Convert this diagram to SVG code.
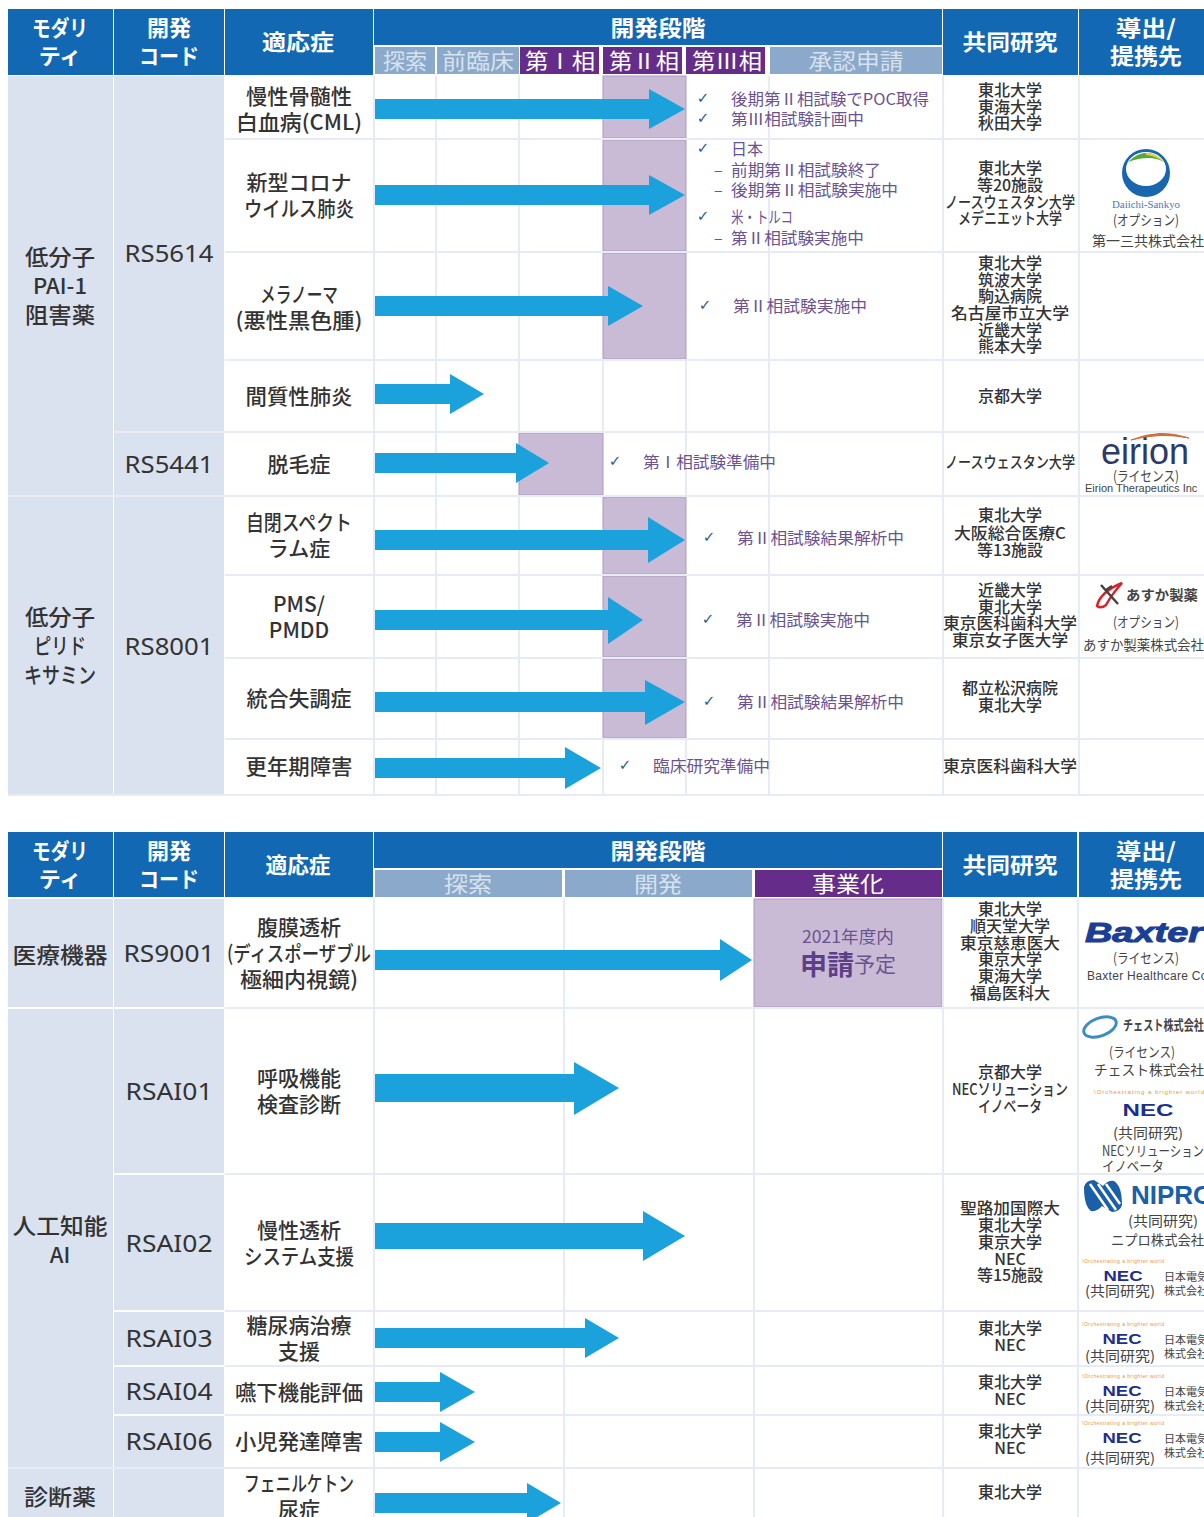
<svg xmlns="http://www.w3.org/2000/svg" width="1204" height="1517" viewBox="0 0 1204 1517">
<style>
text{font-family:"Noto Sans CJK JP","Noto Sans",sans-serif;dominant-baseline:central;text-anchor:middle;transform:translateY(-2px)}
.hd{fill:#1268b3}.sg{fill:#8ba9ca}.ph{fill:#652d89}.lb{fill:#dae2ef}.hl{fill:#c9bbd6;stroke:#ac9ac2;stroke-width:1}
.gl{stroke:#e6ebf5;stroke-width:2;fill:none}
.ar{fill:#1ba1db}
.ht{fill:#fff;font-size:22px;font-weight:700}.sh{fill:#d8e2ee;font-size:22px}.pt{fill:#fff;font-size:22px}
.md{fill:#333;font-size:22px;font-weight:500}.cd{fill:#333;font-size:23px;font-family:"Noto Sans",sans-serif}
.in{fill:#333;font-size:21px;font-weight:500}.co{fill:#333;font-size:16px;font-weight:500}
.st{fill:#6b5391;font-size:16px;text-anchor:start}.ck{fill:#2c5f8d;font-size:15px;font-family:"DejaVu Sans",sans-serif}
.lg{fill:#444;font-size:14px}.ll{fill:#444;font-size:14px;text-anchor:start}
.nec{fill:#1d2f8c;font-weight:700;font-family:"Liberation Sans",sans-serif;font-size:17px}
.tag{fill:#e8963c;font-size:6px;font-family:"Liberation Sans",sans-serif;text-anchor:start}
.jd{font-size:11px}
</style>
<rect width="1204" height="1517" fill="#fff"/>

<g id="table-1-background">
<rect class="lb" x="8" y="76" width="105" height="719"/>
<rect class="lb" x="114" y="76" width="110" height="356"/>
<rect class="lb" x="114" y="433" width="110" height="62"/>
<rect class="lb" x="114" y="497" width="110" height="298"/>
<rect class="hl" x="603" y="76" width="83" height="62"/>
<rect class="hl" x="603" y="140" width="83" height="111"/>
<rect class="hl" x="603" y="253" width="83" height="106"/>
<rect class="hl" x="519" y="433" width="84" height="62"/>
<rect class="hl" x="603" y="497" width="83" height="77"/>
<rect class="hl" x="603" y="576" width="83" height="81"/>
<rect class="hl" x="603" y="659" width="83" height="79"/>
<path class="gl" d="M225 139H1204M225 252H1204M225 360H1204M114 432H1204M8 496H1204M225 575H1204M225 658H1204M225 739H1204M8 795H1204M374 76V795M436 76V795M519 76V433M519 496V795M603 360V433M603 739V795M686 360V497M686 739V795M769 76V795M943 76V795M1079 76V795"/>
</g>

<g id="table-1-header">
<rect class="hd" x="8" y="9" width="105" height="66"/>
<rect class="hd" x="114" y="9" width="110" height="66"/>
<rect class="hd" x="225" y="9" width="148" height="66"/>
<rect class="hd" x="374" y="9" width="568" height="36"/>
<rect class="hd" x="943" y="9" width="135" height="66"/>
<rect class="hd" x="1079" y="9" width="125" height="66"/>
<rect class="sg" x="375" y="47" width="60" height="27"/>
<rect class="sg" x="437" y="47" width="82" height="27"/>
<rect class="ph" x="520" y="47" width="79" height="27"/>
<rect class="ph" x="603" y="47" width="79" height="27"/>
<rect class="ph" x="686" y="47" width="79" height="27"/>
<rect class="sg" x="770" y="47" width="172" height="27"/>
<text class="ht" x="60" y="28" textLength="56" lengthAdjust="spacingAndGlyphs">モダリ</text>
<text class="ht" x="60" y="56">ティ</text>
<text class="ht" x="169" y="28">開発</text>
<text class="ht" x="169" y="56" textLength="60" lengthAdjust="spacingAndGlyphs">コード</text>
<text class="ht" x="298" y="42" textLength="72" lengthAdjust="spacingAndGlyphs">適応症</text>
<text class="ht" x="658" y="28" textLength="95" lengthAdjust="spacingAndGlyphs">開発段階</text>
<text class="ht" x="1010" y="42" textLength="95" lengthAdjust="spacingAndGlyphs">共同研究</text>
<text class="ht" x="1146" y="28" textLength="60" lengthAdjust="spacingAndGlyphs">導出/</text>
<text class="ht" x="1146" y="56" textLength="72" lengthAdjust="spacingAndGlyphs">提携先</text>
<text class="sh" x="405" y="61">探索</text>
<text class="sh" x="478" y="61" textLength="72" lengthAdjust="spacingAndGlyphs">前臨床</text>
<text class="pt" x="560" y="61" textLength="70" lengthAdjust="spacingAndGlyphs">第Ⅰ相</text>
<text class="pt" x="644" y="61" textLength="70" lengthAdjust="spacingAndGlyphs">第Ⅱ相</text>
<text class="pt" x="727" y="61" textLength="70" lengthAdjust="spacingAndGlyphs">第Ⅲ相</text>
<text class="sh" x="856" y="61" textLength="95" lengthAdjust="spacingAndGlyphs">承認申請</text>
</g>

<g id="table-1-labels">
<text class="md" x="60" y="257" textLength="70" lengthAdjust="spacingAndGlyphs">低分子</text>
<text class="md" x="60" y="286">PAI-1</text>
<text class="md" x="60" y="315" textLength="70" lengthAdjust="spacingAndGlyphs">阻害薬</text>
<text class="md" x="60" y="617" textLength="70" lengthAdjust="spacingAndGlyphs">低分子</text>
<text class="md" x="60" y="646" textLength="52" lengthAdjust="spacingAndGlyphs">ピリド</text>
<text class="md" x="60" y="675" textLength="72" lengthAdjust="spacingAndGlyphs">キサミン</text>
<text class="cd" x="169" y="255" textLength="89" lengthAdjust="spacingAndGlyphs">RS5614</text>
<text class="cd" x="169" y="466" textLength="89" lengthAdjust="spacingAndGlyphs">RS5441</text>
<text class="cd" x="169" y="648" textLength="89" lengthAdjust="spacingAndGlyphs">RS8001</text>
</g>

<g id="row-cml">
<text class="in" x="299" y="97" textLength="106" lengthAdjust="spacingAndGlyphs">慢性骨髄性</text>
<text class="in" x="299" y="123" textLength="126" lengthAdjust="spacingAndGlyphs">白血病(CML)</text>
<text class="ck" x="703" y="100">✓</text><text class="st" x="731" y="100" textLength="198" lengthAdjust="spacingAndGlyphs">後期第Ⅱ相試験でPOC取得</text>
<text class="ck" x="703" y="120">✓</text><text class="st" x="731" y="120" textLength="133" lengthAdjust="spacingAndGlyphs">第Ⅲ相試験計画中</text>
<text class="co" x="1010" y="91">東北大学</text><text class="co" x="1010" y="108">東海大学</text><text class="co" x="1010" y="124">秋田大学</text>
</g>
<g id="row-covid">
<text class="in" x="299" y="183">新型コロナ</text>
<text class="in" x="299" y="209" textLength="110" lengthAdjust="spacingAndGlyphs">ウイルス肺炎</text>
<text class="ck" x="703" y="150">✓</text><text class="st" x="731" y="150">日本</text>
<text class="st" x="714" y="171">–</text><text class="st" x="731" y="171" textLength="150" lengthAdjust="spacingAndGlyphs">前期第Ⅱ相試験終了</text>
<text class="st" x="714" y="191">–</text><text class="st" x="731" y="191" textLength="167" lengthAdjust="spacingAndGlyphs">後期第Ⅱ相試験実施中</text>
<text class="ck" x="703" y="218">✓</text><text class="st" x="731" y="218" textLength="62" lengthAdjust="spacingAndGlyphs">米・トルコ</text>
<text class="st" x="714" y="239">–</text><text class="st" x="731" y="239" textLength="133" lengthAdjust="spacingAndGlyphs">第Ⅱ相試験実施中</text>
<text class="co" x="1010" y="169">東北大学</text><text class="co" x="1010" y="186">等20施設</text>
<text class="co" x="1010" y="203" textLength="130" lengthAdjust="spacingAndGlyphs">ノースウェスタン大学</text><text class="co" x="1010" y="219" textLength="104" lengthAdjust="spacingAndGlyphs">メデニエット大学</text>
<circle cx="1146" cy="173" r="24" fill="#1a66ae"/>
<ellipse cx="1146" cy="169" rx="20" ry="17" fill="#fff"/>
<path d="M1128 162Q1146 144 1164 162Q1150 154 1128 162Z" fill="#5aa83c"/>
<path d="M1146 153Q1156 152 1164 162Q1156 156 1146 155Z" fill="#d9d83a"/>
<text class="lg" x="1146" y="206" style="font-size:10px;fill:#4a78b8;font-family:'Liberation Serif',serif" textLength="68" lengthAdjust="spacingAndGlyphs">Daiichi-Sankyo</text>
<text class="lg" x="1146" y="221" textLength="66" lengthAdjust="spacingAndGlyphs">(オプション)</text>
<text class="ll" x="1092" y="242" textLength="112" lengthAdjust="spacingAndGlyphs">第一三共株式会社</text>
</g>
<g id="row-melanoma">
<text class="in" x="299" y="295" textLength="78" lengthAdjust="spacingAndGlyphs">メラノーマ</text>
<text class="in" x="299" y="321" textLength="127" lengthAdjust="spacingAndGlyphs">(悪性黒色腫)</text>
<text class="ck" x="705" y="307">✓</text><text class="st" x="733" y="307" textLength="134" lengthAdjust="spacingAndGlyphs">第Ⅱ相試験実施中</text>
<text class="co" x="1010" y="264">東北大学</text><text class="co" x="1010" y="281">筑波大学</text><text class="co" x="1010" y="297">駒込病院</text><text class="co" x="1010" y="314" textLength="118" lengthAdjust="spacingAndGlyphs">名古屋市立大学</text><text class="co" x="1010" y="331">近畿大学</text><text class="co" x="1010" y="347">熊本大学</text>
</g>
<g id="row-ipf">
<text class="in" x="299" y="397" textLength="107" lengthAdjust="spacingAndGlyphs">間質性肺炎</text>
<text class="co" x="1010" y="397">京都大学</text>
</g>
<g id="row-alopecia">
<text class="in" x="299" y="465">脱毛症</text>
<text class="ck" x="615" y="463">✓</text><text class="st" x="643" y="463" textLength="133" lengthAdjust="spacingAndGlyphs">第Ⅰ相試験準備中</text>
<text class="co" x="1010" y="463" textLength="130" lengthAdjust="spacingAndGlyphs">ノースウェスタン大学</text>
<text x="1145" y="453" style="font-family:'Liberation Sans',sans-serif;font-size:36px;fill:#2b3a67" textLength="88" lengthAdjust="spacingAndGlyphs">eirion</text>
<path d="M1131 440Q1160 428 1189 438Q1160 432 1131 440Z" fill="#c8703c" stroke="#c8703c"/>
<text class="lg" x="1146" y="477" textLength="66" lengthAdjust="spacingAndGlyphs">(ライセンス)</text>
<text class="ll" x="1085" y="490" style="font-size:11px;font-family:'Liberation Sans',sans-serif">Eirion Therapeutics Inc</text>
</g>
<g id="row-asd">
<text class="in" x="299" y="523" textLength="106" lengthAdjust="spacingAndGlyphs">自閉スペクト</text>
<text class="in" x="299" y="549">ラム症</text>
<text class="ck" x="709" y="539">✓</text><text class="st" x="737" y="539" textLength="167" lengthAdjust="spacingAndGlyphs">第Ⅱ相試験結果解析中</text>
<text class="co" x="1010" y="516">東北大学</text><text class="co" x="1010" y="534" textLength="112" lengthAdjust="spacingAndGlyphs">大阪総合医療C</text><text class="co" x="1010" y="551">等13施設</text>
</g>
<g id="row-pms">
<text class="in" x="299" y="605">PMS/</text>
<text class="in" x="299" y="631">PMDD</text>
<text class="ck" x="708" y="621">✓</text><text class="st" x="736" y="621" textLength="134" lengthAdjust="spacingAndGlyphs">第Ⅱ相試験実施中</text>
<text class="co" x="1010" y="591">近畿大学</text><text class="co" x="1010" y="608">東北大学</text><text class="co" x="1010" y="624" textLength="134" lengthAdjust="spacingAndGlyphs">東京医科歯科大学</text><text class="co" x="1010" y="641" textLength="116" lengthAdjust="spacingAndGlyphs">東京女子医大学</text>
<path d="M1097 606Q1100 592 1122 583Q1112 594 1106 605Q1101 609 1097 606Z" fill="none" stroke="#d8232a" stroke-width="2.5"/>
<path d="M1101 585L1118 604M1106 590L1112 586" stroke="#444" stroke-width="2.5"/>
<text class="ll" x="1126" y="596" style="font-weight:700" textLength="72" lengthAdjust="spacingAndGlyphs">あすか製薬</text>
<text class="lg" x="1146" y="623" textLength="66" lengthAdjust="spacingAndGlyphs">(オプション)</text>
<text class="ll" x="1083" y="646" textLength="121" lengthAdjust="spacingAndGlyphs">あすか製薬株式会社</text>
</g>
<g id="row-schizophrenia">
<text class="in" x="299" y="699">統合失調症</text>
<text class="ck" x="709" y="703">✓</text><text class="st" x="737" y="703" textLength="167" lengthAdjust="spacingAndGlyphs">第Ⅱ相試験結果解析中</text>
<text class="co" x="1010" y="689">都立松沢病院</text><text class="co" x="1010" y="706">東北大学</text>
</g>
<g id="row-menopause">
<text class="in" x="299" y="767" textLength="107" lengthAdjust="spacingAndGlyphs">更年期障害</text>
<text class="ck" x="625" y="767">✓</text><text class="st" x="653" y="767" textLength="117" lengthAdjust="spacingAndGlyphs">臨床研究準備中</text>
<text class="co" x="1010" y="767" textLength="134" lengthAdjust="spacingAndGlyphs">東京医科歯科大学</text>
</g>

<g id="table-2-background">
<rect class="lb" x="8" y="899" width="105" height="108"/>
<rect class="lb" x="114" y="899" width="110" height="108"/>
<rect class="lb" x="8" y="1009" width="105" height="458"/>
<rect class="lb" x="114" y="1009" width="110" height="164"/>
<rect class="lb" x="114" y="1175" width="110" height="135"/>
<rect class="lb" x="114" y="1312" width="110" height="53"/>
<rect class="lb" x="114" y="1367" width="110" height="47"/>
<rect class="lb" x="114" y="1416" width="110" height="51"/>
<rect class="lb" x="8" y="1469" width="105" height="48"/>
<rect class="lb" x="114" y="1469" width="110" height="48"/>
<rect class="hl" x="754" y="899" width="188" height="108"/>
<path class="gl" d="M225 1008H1204M225 1174H1204M225 1311H1204M225 1366H1204M225 1415H1204M8 1468H1204M374 899V1517M564 899V1517M754 1008V1517M943 899V1517M1078 899V1517"/>
</g>

<g id="table-2-header">
<rect class="hd" x="8" y="832" width="105" height="65"/>
<rect class="hd" x="114" y="832" width="110" height="65"/>
<rect class="hd" x="225" y="832" width="148" height="65"/>
<rect class="hd" x="374" y="832" width="568" height="36"/>
<rect class="hd" x="943" y="832" width="134" height="65"/>
<rect class="hd" x="1079" y="832" width="125" height="65"/>
<rect class="sg" x="375" y="870" width="187" height="27"/>
<rect class="sg" x="565" y="870" width="187" height="27"/>
<rect class="ph" x="755" y="870" width="187" height="27"/>
<text class="ht" x="60" y="851" textLength="56" lengthAdjust="spacingAndGlyphs">モダリ</text>
<text class="ht" x="60" y="879">ティ</text>
<text class="ht" x="169" y="851">開発</text>
<text class="ht" x="169" y="879" textLength="60" lengthAdjust="spacingAndGlyphs">コード</text>
<text class="ht" x="298" y="865" textLength="65" lengthAdjust="spacingAndGlyphs">適応症</text>
<text class="ht" x="658" y="851" textLength="95" lengthAdjust="spacingAndGlyphs">開発段階</text>
<text class="ht" x="1010" y="865" textLength="95" lengthAdjust="spacingAndGlyphs">共同研究</text>
<text class="ht" x="1146" y="851" textLength="60" lengthAdjust="spacingAndGlyphs">導出/</text>
<text class="ht" x="1146" y="879" textLength="72" lengthAdjust="spacingAndGlyphs">提携先</text>
<text class="sh" x="468" y="884" textLength="48" lengthAdjust="spacingAndGlyphs">探索</text>
<text class="sh" x="658" y="884" textLength="48" lengthAdjust="spacingAndGlyphs">開発</text>
<text class="pt" x="848" y="884" textLength="72" lengthAdjust="spacingAndGlyphs">事業化</text>
</g>

<g id="table-2-labels">
<text class="md" x="60" y="955" textLength="95" lengthAdjust="spacingAndGlyphs">医療機器</text>
<text class="md" x="60" y="1226" textLength="95" lengthAdjust="spacingAndGlyphs">人工知能</text>
<text class="md" x="60" y="1255">AI</text>
<text class="md" x="60" y="1497" textLength="72" lengthAdjust="spacingAndGlyphs">診断薬</text>
<text class="cd" x="169" y="955" textLength="91" lengthAdjust="spacingAndGlyphs">RS9001</text>
<text class="cd" x="169" y="1093" textLength="87" lengthAdjust="spacingAndGlyphs">RSAI01</text>
<text class="cd" x="169" y="1245" textLength="87" lengthAdjust="spacingAndGlyphs">RSAI02</text>
<text class="cd" x="169" y="1340" textLength="87" lengthAdjust="spacingAndGlyphs">RSAI03</text>
<text class="cd" x="169" y="1393" textLength="87" lengthAdjust="spacingAndGlyphs">RSAI04</text>
<text class="cd" x="169" y="1443" textLength="87" lengthAdjust="spacingAndGlyphs">RSAI06</text>
</g>

<g id="row-rs9001">
<text class="in" x="299" y="928">腹膜透析</text>
<text class="in" x="299" y="954" textLength="144" lengthAdjust="spacingAndGlyphs">(ディスポーザブル</text>
<text class="in" x="299" y="980" textLength="118" lengthAdjust="spacingAndGlyphs">極細内視鏡)</text>
<text x="848" y="937" style="fill:#6b5391;font-size:17px" textLength="92" lengthAdjust="spacingAndGlyphs">2021年度内</text>
<text x="848" y="965" style="font-size:25px;fill:#6b5391"><tspan style="font-weight:700;font-size:27px;fill:#5c3f88">申請</tspan><tspan style="font-size:21px">予定</tspan></text>
<text class="co" x="1010" y="910">東北大学</text><text class="co" x="1010" y="927">順天堂大学</text><text class="co" x="1010" y="944" textLength="100" lengthAdjust="spacingAndGlyphs">東京慈恵医大</text><text class="co" x="1010" y="960">東京大学</text><text class="co" x="1010" y="977">東海大学</text><text class="co" x="1010" y="994">福島医科大</text>
<text x="1085" y="934" style="font-family:'Liberation Sans',sans-serif;font-weight:700;font-style:italic;font-size:28px;fill:#1b3f94;stroke:#1b3f94;stroke-width:1;text-anchor:start" textLength="118" lengthAdjust="spacingAndGlyphs">Baxter</text>
<text class="lg" x="1146" y="959" textLength="66" lengthAdjust="spacingAndGlyphs">(ライセンス)</text>
<text class="ll" x="1087" y="978" style="font-size:12px;letter-spacing:.3px;font-family:'Liberation Sans',sans-serif">Baxter Healthcare Corporation</text>
</g>
<g id="row-rsai01">
<text class="in" x="299" y="1079">呼吸機能</text>
<text class="in" x="299" y="1105">検査診断</text>
<text class="co" x="1010" y="1073">京都大学</text><text class="co" x="1010" y="1090" textLength="116" lengthAdjust="spacingAndGlyphs">NECソリューション</text><text class="co" x="1010" y="1107" textLength="64" lengthAdjust="spacingAndGlyphs">イノベータ</text>
<ellipse cx="1100" cy="1027" rx="17" ry="9" fill="none" stroke="#3d8dc0" stroke-width="3" transform="rotate(-20 1100 1027)"/>
<text class="ll" x="1123" y="1026" style="font-weight:700" textLength="81" lengthAdjust="spacingAndGlyphs">チェスト株式会社</text>
<text class="lg" x="1142" y="1053" textLength="66" lengthAdjust="spacingAndGlyphs">(ライセンス)</text>
<text class="ll" x="1094" y="1071" textLength="110" lengthAdjust="spacingAndGlyphs">チェスト株式会社</text>
<text class="tag" x="1094" y="1094" textLength="110">\Orchestrating a brighter world</text>
<text class="nec" x="1148" y="1112" textLength="51" lengthAdjust="spacingAndGlyphs">NEC</text>
<text class="lg" x="1148" y="1134" textLength="70" lengthAdjust="spacingAndGlyphs">(共同研究)</text>
<text class="ll" x="1102" y="1152" textLength="102" lengthAdjust="spacingAndGlyphs">NECソリューション</text>
<text class="ll" x="1102" y="1167" textLength="62" lengthAdjust="spacingAndGlyphs">イノベータ</text>
</g>
<g id="row-rsai02">
<text class="in" x="299" y="1231">慢性透析</text>
<text class="in" x="299" y="1257" textLength="110" lengthAdjust="spacingAndGlyphs">システム支援</text>
<text class="co" x="1010" y="1209" textLength="100" lengthAdjust="spacingAndGlyphs">聖路加国際大</text><text class="co" x="1010" y="1226">東北大学</text><text class="co" x="1010" y="1243">東京大学</text><text class="co" x="1010" y="1260">NEC</text><text class="co" x="1010" y="1276">等15施設</text>
<path d="M1084 1187Q1086 1180 1094 1180L1103 1186Q1108 1180 1114 1181Q1122 1186 1122 1205Q1120 1212 1112 1212L1102 1206Q1097 1212 1091 1211Q1084 1206 1084 1187Z" fill="#1a5fa8"/>
<path d="M1090 1184L1108 1210M1098 1184L1116 1210M1106 1184L1120 1204" fill="none" stroke="#fff" stroke-width="2.5"/>
<text x="1131" y="1197" style="font-family:'Liberation Sans',sans-serif;font-weight:700;font-size:26px;fill:#1a5fa8;text-anchor:start">NIPRO</text>
<text class="lg" x="1163" y="1222" textLength="70" lengthAdjust="spacingAndGlyphs">(共同研究)</text>
<text class="ll" x="1111" y="1241" textLength="93" lengthAdjust="spacingAndGlyphs">ニプロ株式会社</text>
<text class="tag" x="1082" y="1263" style="font-size:5px" textLength="82">\Orchestrating a brighter world</text>
<text class="nec" x="1123" y="1278" style="font-size:14px" textLength="39" lengthAdjust="spacingAndGlyphs">NEC</text>
<text class="lg" x="1120" y="1292" textLength="70" lengthAdjust="spacingAndGlyphs">(共同研究)</text>
<text class="ll jd" x="1164" y="1278">日本電気</text>
<text class="ll jd" x="1164" y="1292">株式会社</text>
</g>
<g id="row-rsai03">
<text class="in" x="299" y="1326">糖尿病治療</text>
<text class="in" x="299" y="1352">支援</text>
<text class="co" x="1010" y="1329">東北大学</text><text class="co" x="1010" y="1346">NEC</text>
<text class="tag" x="1082" y="1326" style="font-size:5px" textLength="82">\Orchestrating a brighter world</text>
<text class="nec" x="1122" y="1341" style="font-size:14px" textLength="39" lengthAdjust="spacingAndGlyphs">NEC</text>
<text class="lg" x="1120" y="1357" textLength="70" lengthAdjust="spacingAndGlyphs">(共同研究)</text>
<text class="ll jd" x="1164" y="1341">日本電気</text>
<text class="ll jd" x="1164" y="1355">株式会社</text>
</g>
<g id="row-rsai04">
<text class="in" x="299" y="1393" textLength="128" lengthAdjust="spacingAndGlyphs">嚥下機能評価</text>
<text class="co" x="1010" y="1383">東北大学</text><text class="co" x="1010" y="1400">NEC</text>
<text class="tag" x="1082" y="1378" style="font-size:5px" textLength="82">\Orchestrating a brighter world</text>
<text class="nec" x="1122" y="1393" style="font-size:14px" textLength="39" lengthAdjust="spacingAndGlyphs">NEC</text>
<text class="lg" x="1120" y="1407" textLength="70" lengthAdjust="spacingAndGlyphs">(共同研究)</text>
<text class="ll jd" x="1164" y="1393">日本電気</text>
<text class="ll jd" x="1164" y="1407">株式会社</text>
</g>
<g id="row-rsai06">
<text class="in" x="299" y="1442" textLength="128" lengthAdjust="spacingAndGlyphs">小児発達障害</text>
<text class="co" x="1010" y="1432">東北大学</text><text class="co" x="1010" y="1449">NEC</text>
<text class="tag" x="1082" y="1425" style="font-size:5px" textLength="82">\Orchestrating a brighter world</text>
<text class="nec" x="1122" y="1440" style="font-size:14px" textLength="39" lengthAdjust="spacingAndGlyphs">NEC</text>
<text class="lg" x="1120" y="1459" textLength="70" lengthAdjust="spacingAndGlyphs">(共同研究)</text>
<text class="ll jd" x="1164" y="1440">日本電気</text>
<text class="ll jd" x="1164" y="1454">株式会社</text>
</g>
<g id="row-pku">
<text class="in" x="299" y="1484" textLength="110" lengthAdjust="spacingAndGlyphs">フェニルケトン</text>
<text class="in" x="299" y="1510">尿症</text>
<text class="co" x="1010" y="1493">東北大学</text>
</g>

<g id="connectors">
<polygon class="ar" points="375,99 649,99 649,89 685,109 649,129 649,119 375,119"/>
<polygon class="ar" points="375,185 649,185 649,175 685,195 649,215 649,205 375,205"/>
<polygon class="ar" points="375,296 608,296 608,286 643,306 608,326 608,316 375,316"/>
<polygon class="ar" points="375,384 450,384 450,374 484,394 450,414 450,404 375,404"/>
<polygon class="ar" points="375,453 516,453 516,443 549,463 516,483 516,473 375,473"/>
<polygon class="ar" points="375,530 648,530 648,517 685,540 648,563 648,550 375,550"/>
<polygon class="ar" points="375,610 608,610 608,597 643,620 608,644 608,630 375,630"/>
<polygon class="ar" points="375,692 645,692 645,680 685,702 645,725 645,712 375,712"/>
<polygon class="ar" points="375,758 565,758 565,747 601,768 565,789 565,778 375,778"/>
<polygon class="ar" points="375,950 720,950 720,939 752,960 720,981 720,970 375,970"/>
<polygon class="ar" points="375,1074 574,1074 574,1062 619,1088 574,1115 574,1102 375,1102"/>
<polygon class="ar" points="375,1223 643,1223 643,1211 685,1236 643,1261 643,1249 375,1249"/>
<polygon class="ar" points="375,1328 585,1328 585,1318 619,1338 585,1358 585,1348 375,1348"/>
<polygon class="ar" points="375,1382 440,1382 440,1372 475,1392 440,1412 440,1402 375,1402"/>
<polygon class="ar" points="375,1432 440,1432 440,1422 475,1442 440,1462 440,1452 375,1452"/>
<polygon class="ar" points="375,1493 527,1493 527,1483 561,1503 527,1523 527,1513 375,1513"/>
</g>
</svg>
